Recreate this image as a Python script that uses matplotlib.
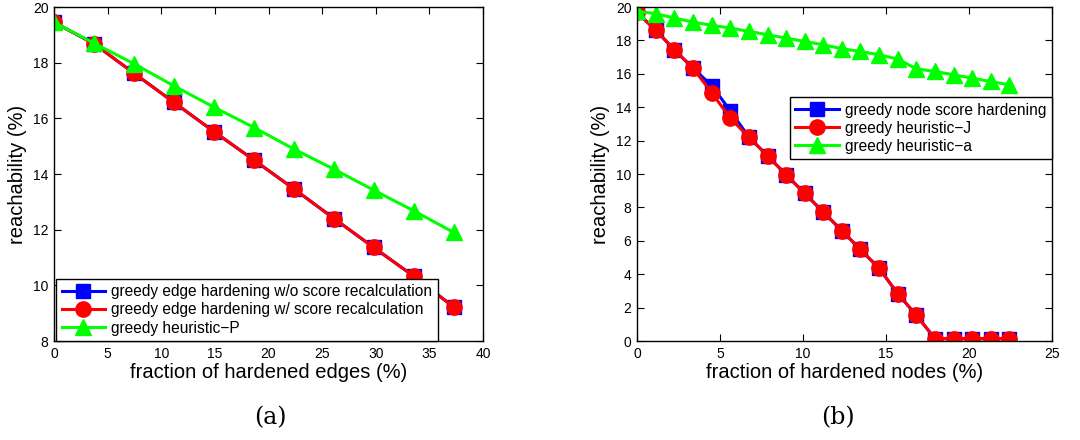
import matplotlib.pyplot as plt
import numpy as np

plt.rcParams['font.family'] = ['Liberation Sans', 'DejaVu Sans']

# (a) edges
edge_x = [0, 3.73, 7.46, 11.16, 14.92, 18.65, 22.35, 26.11, 29.81, 33.54, 37.27]
edge_wo = [19.45, 18.68, 17.62, 16.58, 15.52, 14.5, 13.47, 12.40, 11.36, 10.33, 9.22]
edge_w = [19.45, 18.68, 17.62, 16.58, 15.52, 14.5, 13.47, 12.40, 11.36, 10.33, 9.22]
edge_p = [19.45, 18.7, 17.96, 17.17, 16.4, 15.67, 14.9, 14.17, 13.42, 12.68, 11.9]

# (b) nodes
node_x = [0, 1.14, 2.25, 3.37, 4.52, 5.62, 6.75, 7.87, 8.98, 10.1, 11.22,
          12.35, 13.45, 14.58, 15.7, 16.83, 17.95, 19.08, 20.18, 21.3, 22.41]
node_score = [19.68, 18.6, 17.44, 16.34, 15.28, 13.78, 12.2, 11.08, 9.96, 8.84, 7.72,
              6.6, 5.48, 4.36, 2.84, 1.54, 0.14, 0.14, 0.14, 0.14, 0.14]
node_j = [19.68, 18.6, 17.44, 16.34, 14.84, 13.34, 12.2, 11.08, 9.96, 8.84, 7.72,
          6.6, 5.48, 4.36, 2.84, 1.54, 0.14, 0.14, 0.14, 0.14, 0.14]
node_a = [19.74, 19.6, 19.34, 19.1, 18.9, 18.74, 18.54, 18.34, 18.14, 17.94, 17.74,
          17.5, 17.34, 17.14, 16.88, 16.3, 16.14, 15.94, 15.74, 15.54, 15.34]

fig = plt.figure(figsize=(10.8, 4.4), dpi=100)
ax1 = fig.add_axes([54 / 1080, 1 - 341 / 440, 429 / 1080, 334 / 440])
ax2 = fig.add_axes([637 / 1080, 1 - 341 / 440, 415 / 1080, 334 / 440])

lw = 2.2
ms = 11

ax1.plot(edge_x, edge_wo, '-s', color='blue', lw=lw, ms=ms - 1,
         label='greedy edge hardening w/o score recalculation')
ax1.plot(edge_x, edge_w, '-o', color='red', lw=lw, ms=ms,
         label='greedy edge hardening w/ score recalculation')
ax1.plot(edge_x, edge_p, '-^', color='#00ff00', lw=lw, ms=ms,
         label='greedy heuristic\u2212P')
ax1.set_xlim(0, 40)
ax1.set_ylim(8, 20)
ax1.set_xticks(np.arange(0, 41, 5))
ax1.set_yticks(np.arange(8, 21, 2))
ax1.set_xlabel('fraction of hardened edges (%)', fontsize=14.5, labelpad=2)
ax1.set_ylabel('reachability (%)', fontsize=14.5, labelpad=4)
leg1 = ax1.legend(loc='lower left', bbox_to_anchor=(0.005, 0.0), fontsize=11.2,
                  handlelength=2.8, borderaxespad=0, fancybox=False,
                  edgecolor='black', framealpha=1, borderpad=0.35,
                  labelspacing=0.2, handletextpad=0.4)
leg1.get_frame().set_linewidth(1.0)

ax2.plot(node_x, node_score, '-s', color='blue', lw=lw, ms=ms - 1,
         label='greedy node score hardening')
ax2.plot(node_x, node_j, '-o', color='red', lw=lw, ms=ms,
         label='greedy heuristic\u2212J')
ax2.plot(node_x, node_a, '-^', color='#00ff00', lw=lw, ms=ms,
         label='greedy heuristic\u2212a')
ax2.set_xlim(0, 25)
ax2.set_ylim(0, 20)
ax2.set_xticks(np.arange(0, 26, 5))
ax2.set_yticks(np.arange(0, 21, 2))
ax2.set_xlabel('fraction of hardened nodes (%)', fontsize=14.5, labelpad=2)
ax2.set_ylabel('reachability (%)', fontsize=14.5, labelpad=4)
leg2 = ax2.legend(loc='upper right', bbox_to_anchor=(1.0, 0.73), fontsize=11.2,
                  handlelength=2.8, borderaxespad=0, fancybox=False,
                  edgecolor='black', framealpha=1, borderpad=0.35,
                  labelspacing=0.2, handletextpad=0.4)
leg2.get_frame().set_linewidth(1.0)

for ax in (ax1, ax2):
    ax.tick_params(direction='in', top=True, right=True, labelsize=10,
                   length=5, pad=4)
    for s in ax.spines.values():
        s.set_linewidth(1.0)

fig.text(270 / 1080, 1 - 418 / 440, '(a)', ha='center', va='center',
         fontsize=17, family='DejaVu Serif')
fig.text(838 / 1080, 1 - 418 / 440, '(b)', ha='center', va='center',
         fontsize=17, family='DejaVu Serif')

fig.savefig('out.png', dpi=100)
